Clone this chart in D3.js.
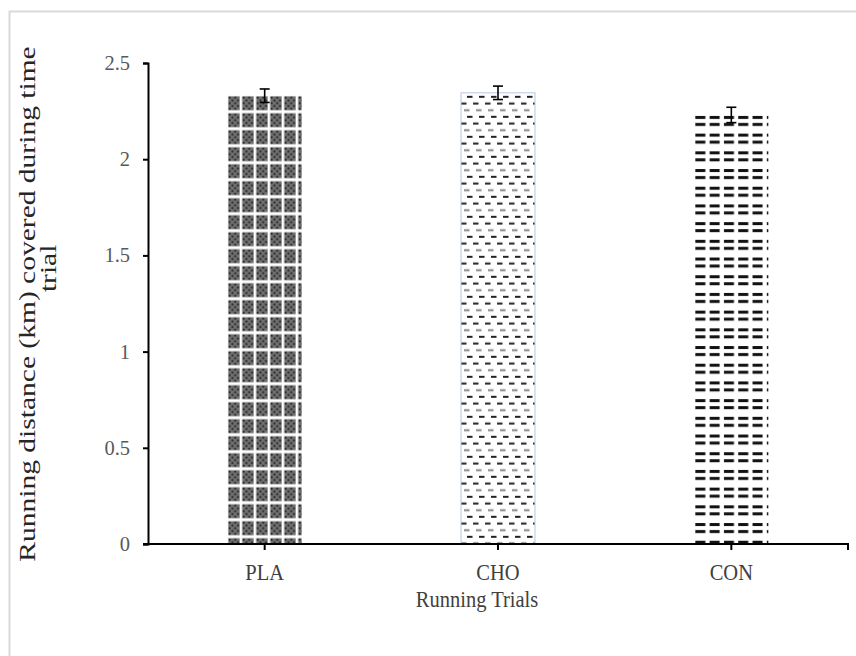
<!doctype html>
<html>
<head>
<meta charset="utf-8">
<script src="https://cdn.jsdelivr.net/npm/d3@7"></script>
<style>
  body { margin: 0; background: #fff; }
  svg text { font-family: "Liberation Serif", "Times New Roman", serif; }
</style>
</head>
<body>
<svg id="chart"></svg>
<script>
  const categories = ["PLA", "CHO", "CON"]
  const means = [2.33, 2.345, 2.23]
  const errors = [0.035, 0.035, 0.04]
  const yTicks = [0, 0.5, 1, 1.5, 2, 2.5]
  const yTickLabels = ["0", "0.5", "1", "1.5", "2", "2.5"]

  const width = 856, height = 656
  const plot = { left: 148, right: 848, top: 63, bottom: 544 }

  const svg = d3.select("#chart").attr("width", width).attr("height", height)

  // outer chart-area border (runs off the right and bottom of the picture)
  svg.append("rect")
    .attr("x", 9.5).attr("y", 11.5)
    .attr("width", 900).attr("height", 700)
    .attr("fill", "none").attr("stroke", "#d9d9d9").attr("stroke-width", 2)

  const x = d3.scaleBand()
    .domain(categories)
    .range([plot.left, plot.right])
    .paddingInner(0.683)
    .paddingOuter(0.683 / 2)

  const y = d3.scaleLinear().domain([0, 2.5]).range([plot.bottom, plot.top])

  const data = categories.map((c, i) => ({ cat: c, mean: means[i], err: errors[i] }))

  const defs = svg.append("defs")

  // PLA: grey blocks with a dotted texture
  function plaPattern(id, px, py) {
    const p = defs.append("pattern").attr("id", id)
      .attr("patternUnits", "userSpaceOnUse")
      .attr("x", px).attr("y", py).attr("width", 14).attr("height", 17)
    p.append("rect").attr("width", 14).attr("height", 17).attr("fill", "#fff")
    p.append("rect").attr("x", 0.5).attr("y", 0.5).attr("width", 11.5).attr("height", 14).attr("fill", "#707070")
    for (let i = 0; i < 4; i++) {
      for (let j = 0; j < 5; j++) {
        if ((i + j) % 2 === 0) {
          p.append("rect").attr("x", 1 + i * 2.8).attr("y", 1 + j * 2.8)
            .attr("width", 1.8).attr("height", 1.8).attr("fill", "#1a1a1a")
        }
      }
    }
  }

  // CHO: thin dashes on white, alternating rows
  function choPattern(id, px, py) {
    const p = defs.append("pattern").attr("id", id)
      .attr("patternUnits", "userSpaceOnUse")
      .attr("x", px).attr("y", py).attr("width", 12).attr("height", 20)
    p.append("rect").attr("width", 12).attr("height", 20).attr("fill", "#fff")
    p.append("rect").attr("x", 6).attr("y", 3).attr("width", 5.5).attr("height", 2).attr("fill", "#222")
    p.append("rect").attr("x", 0).attr("y", 9.7).attr("width", 5.5).attr("height", 2).attr("fill", "#222")
    p.append("rect").attr("x", 3).attr("y", 16.4).attr("width", 5.5).attr("height", 2).attr("fill", "#888")
  }

  // CON: thick dashes in paired rows
  function conPattern(id, px, py) {
    const p = defs.append("pattern").attr("id", id)
      .attr("patternUnits", "userSpaceOnUse")
      .attr("x", px).attr("y", py).attr("width", 14.3).attr("height", 17.7)
    p.append("rect").attr("width", 14.3).attr("height", 17.7).attr("fill", "#fff")
    p.append("rect").attr("x", 1).attr("y", 1).attr("width", 10).attr("height", 3).attr("fill", "#111")
    p.append("rect").attr("x", 1).attr("y", 8).attr("width", 10).attr("height", 3).attr("fill", "#111")
  }

  const makers = { PLA: plaPattern, CHO: choPattern, CON: conPattern }
  data.forEach(d => makers[d.cat]("pat-" + d.cat, x(d.cat), y(d.mean)))

  svg.append("g").selectAll("rect")
    .data(data)
    .join("rect")
      .attr("x", d => x(d.cat))
      .attr("y", d => y(d.mean))
      .attr("width", x.bandwidth())
      .attr("height", d => y(0) - y(d.mean))
      .attr("fill", d => "url(#pat-" + d.cat + ")")
      .attr("stroke", d => d.cat === "CHO" ? "#b4c7e7" : "none")
      .attr("stroke-width", 1)

  // error bars
  const eb = svg.append("g").attr("stroke", "#000").attr("stroke-width", 1.6)
  data.forEach(d => {
    const cx = x(d.cat) + x.bandwidth() / 2
    eb.append("line").attr("x1", cx).attr("x2", cx).attr("y1", y(d.mean + d.err)).attr("y2", y(d.mean - d.err))
    eb.append("line").attr("x1", cx - 5).attr("x2", cx + 5).attr("y1", y(d.mean + d.err)).attr("y2", y(d.mean + d.err))
    eb.append("line").attr("x1", cx - 5).attr("x2", cx + 5).attr("y1", y(d.mean - d.err)).attr("y2", y(d.mean - d.err))
  })

  // y axis
  const yAxis = d3.axisLeft(y).tickValues(yTicks).tickSize(5).tickPadding(13)
    .tickFormat((d, i) => yTickLabels[i])
  const gy = svg.append("g").attr("transform", "translate(" + plot.left + ",0)").call(yAxis)
  gy.select(".domain").attr("stroke", "#000").attr("stroke-width", 2)
  gy.selectAll(".tick line").attr("stroke", "#000").attr("stroke-width", 2)
  gy.selectAll(".tick text").attr("font-size", "20.5px").attr("fill", "#595959")
    .attr("font-family", "Liberation Serif, serif")

  // x axis: ticks at the category centres plus the right end
  const gx = svg.append("g").attr("transform", "translate(0," + plot.bottom + ")")
  gx.append("line").attr("x1", plot.left - 5).attr("x2", plot.right + 1)
    .attr("stroke", "#000").attr("stroke-width", 2)
  const tickXs = categories.map(c => x(c) + x.bandwidth() / 2).concat([plot.right])
  gx.selectAll("line.tk").data(tickXs).join("line").attr("class", "tk")
    .attr("x1", d => d).attr("x2", d => d).attr("y1", 0).attr("y2", 6)
    .attr("stroke", "#000").attr("stroke-width", 2)
  gx.selectAll("text").data(categories).join("text")
    .attr("transform", d => "translate(" + (x(d) + x.bandwidth() / 2) + ",36) scale(1,1.1)")
    .attr("text-anchor", "middle")
    .attr("font-size", "20.5px")
    .attr("fill", "#404040")
    .text(d => d)

  svg.append("text")
    .attr("transform", "translate(477,607) scale(1,1.1)")
    .attr("text-anchor", "middle")
    .attr("font-size", "20.5px")
    .attr("fill", "#404040")
    .text("Running Trials")

  // y title, wrapped on two lines like the original
  const yt = svg.append("g").attr("transform", "translate(35,304) scale(1,1.23) rotate(-90)")
  yt.append("text").attr("x", 0).attr("y", 0).attr("text-anchor", "middle")
    .attr("font-size", "24px").attr("fill", "#262626")
    .text("Running distance (km) covered during time")
  yt.append("text").attr("x", 29).attr("y", 21).attr("text-anchor", "middle")
    .attr("font-size", "24px").attr("fill", "#262626")
    .text("trial")
</script>
</body>
</html>
